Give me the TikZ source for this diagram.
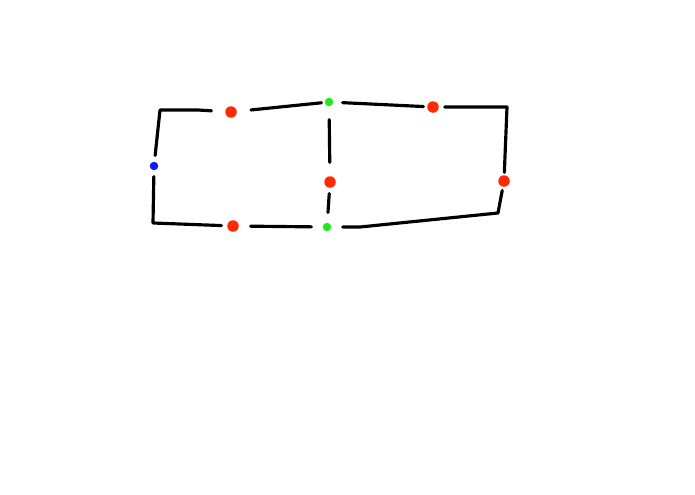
\documentclass[tikz,border=0pt]{standalone}
\usepackage{tikz}
\usetikzlibrary{arrows}

\definecolor{dotred}{RGB}{255,42,0}
\definecolor{dotgreen}{RGB}{30,235,30}
\definecolor{dotblue}{RGB}{10,30,240}

\tikzset{
    wire/.style={draw, black, line width=1.8pt, line cap=round, line join=round},
    reddot/.style={circle, fill=dotred, inner sep=0pt, minimum size=0.23cm},
    greendot/.style={circle, fill=dotgreen, inner sep=0pt, minimum size=0.17cm},
    bluedot/.style={circle, fill=dotblue, inner sep=0pt, minimum size=0.17cm}
}

\begin{document}
\begin{tikzpicture}[x=0.02cm, y=-0.02cm]
    \useasboundingbox (0,0) rectangle (695,494);

    \node[bluedot](l)   at (154,166) {};
    \node[reddot](ta)   at (231,112) {};
    \node[greendot](tm) at (329,102) {};
    \node[reddot](tb)   at (433,107) {};
    \node[reddot](rr)   at (504,181) {};
    \node[reddot](mm)   at (330,182) {};
    \node[greendot](bm) at (327,227) {};
    \node[reddot](ba)   at (233,226) {};

    \coordinate (tl) at (160,110);
    \coordinate (tk) at (198,110);
    \coordinate (tr) at (507,107);
    \coordinate (br) at (498,213);
    \coordinate (bk) at (360,227);
    \coordinate (bl) at (153,223);

    \draw[wire, shorten <=0.12cm, shorten >=0.27cm] (l) -- (tl) -- (tk) -- (ta);
    \draw[wire, shorten <=0.11cm, shorten >=0.05cm] (tb) -- (tr) -- (rr);
    \draw[wire, shorten <=0.07cm, shorten >=0.22cm] (rr) -- (br) -- (bk) -- (bm);
    \draw[wire, shorten <=0.11cm, shorten >=0.12cm] (ba) -- (bl) -- (l);
    \path
        (ta)
            edge [wire, shorten <=0.28cm, shorten >=0.06cm] (tm)
        (tm)
            edge [wire, shorten <=0.18cm, shorten >=0.07cm] (tb)
            edge [wire, shorten <=0.26cm, shorten >=0.27cm] (mm)
        (mm)
            edge [wire, shorten <=0.11cm, shorten >=0.2cm] (bm)
        (bm)
            edge [wire, shorten <=0.22cm, shorten >=0.23cm] (ba)
        ;
\end{tikzpicture}
\end{document}
